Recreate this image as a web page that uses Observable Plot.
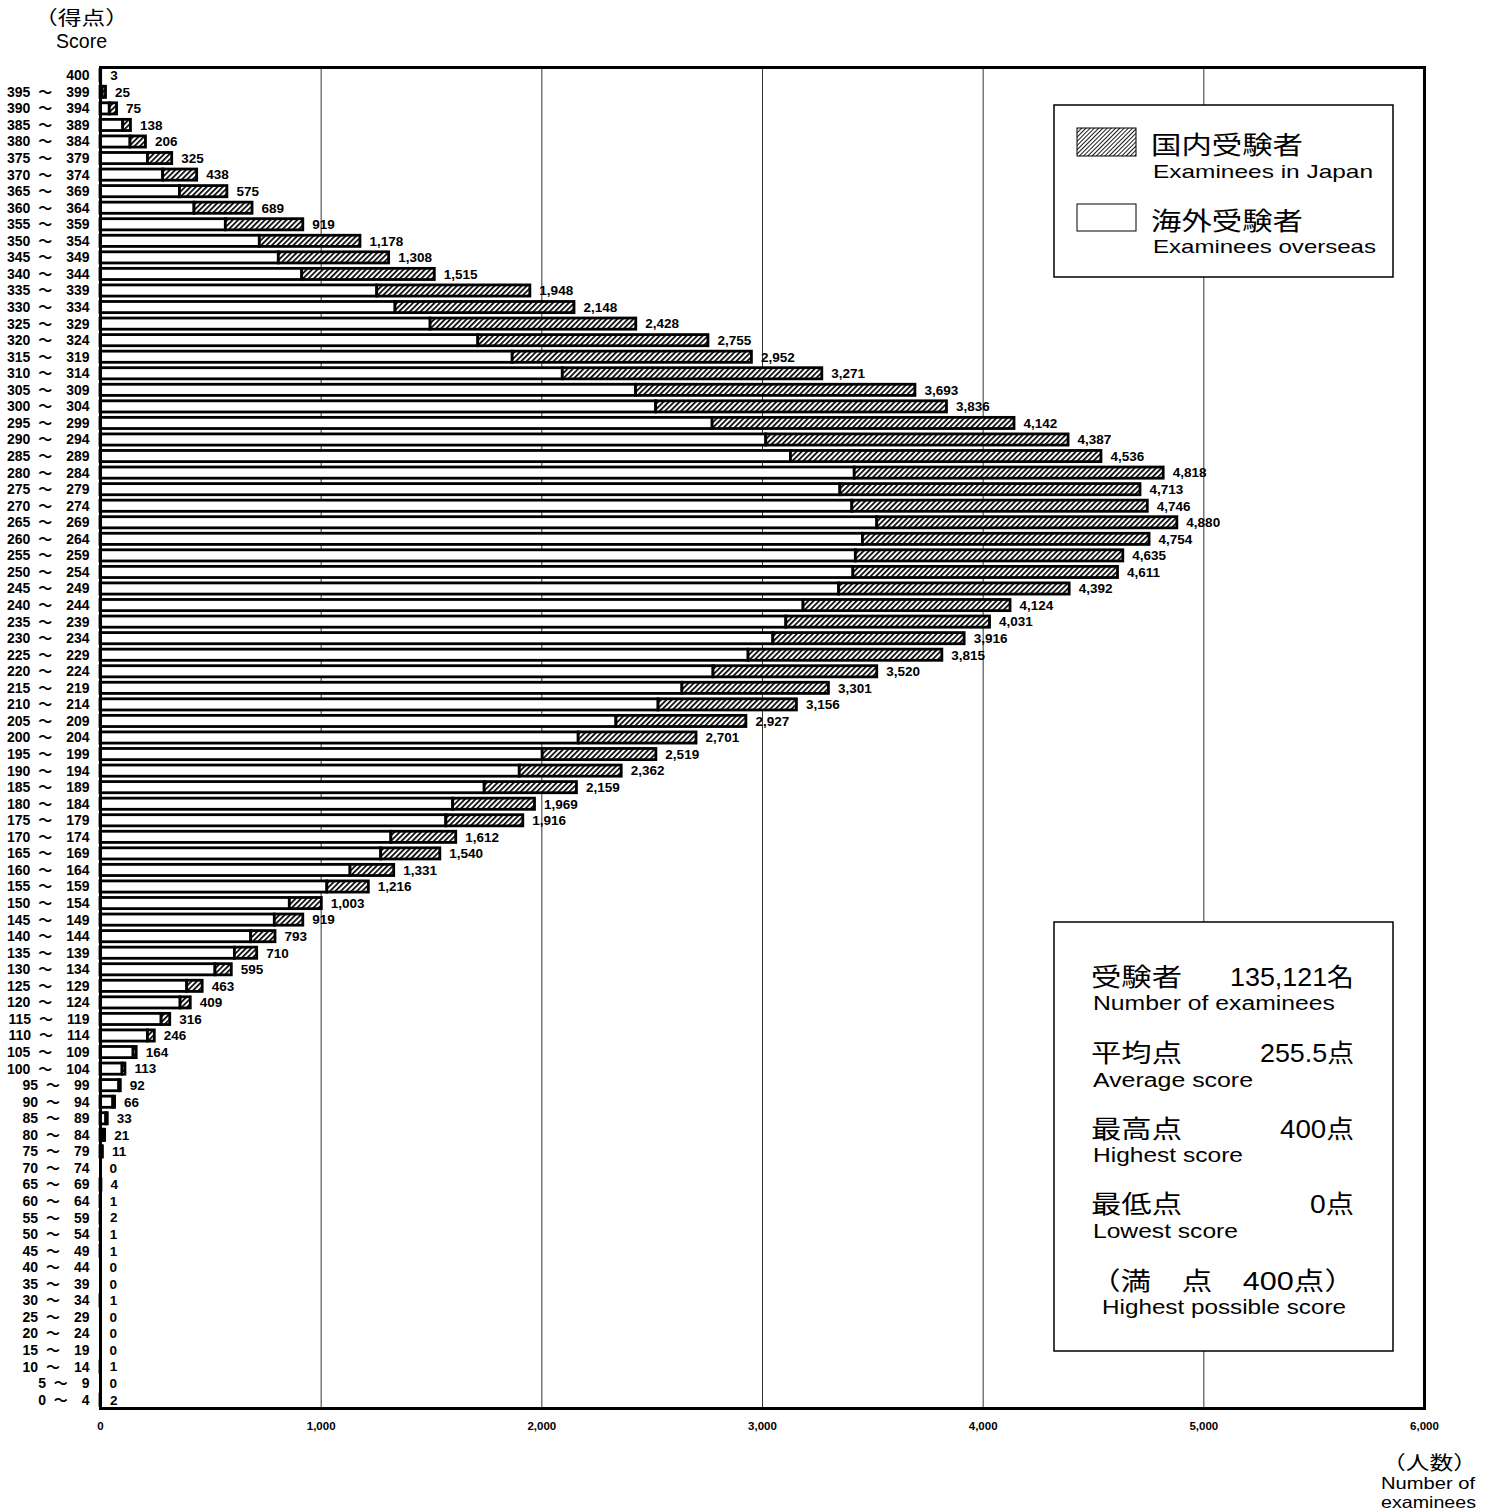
<!DOCTYPE html>
<html>
<head>
<meta charset="utf-8">
<script src="https://cdn.jsdelivr.net/npm/d3@7"></script>
<script src="https://cdn.jsdelivr.net/npm/@observablehq/plot@0.6"></script>
<style>
  html, body { margin: 0; padding: 0; background: #fff; }
  #chart svg { display: block; }
</style>
</head>
<body>
<div id="chart"></div>
<script>
// ---- Data ----
const scoreBins = [
  "400","395～399","390～394","385～389","380～384","375～379","370～374","365～369","360～364",
  "355～359","350～354","345～349","340～344","335～339","330～334","325～329","320～324",
  "315～319","310～314","305～309","300～304","295～299","290～294","285～289","280～284",
  "275～279","270～274","265～269","260～264","255～259","250～254","245～249","240～244",
  "235～239","230～234","225～229","220～224","215～219","210～214","205～209","200～204",
  "195～199","190～194","185～189","180～184","175～179","170～174","165～169","160～164",
  "155～159","150～154","145～149","140～144","135～139","130～134","125～129","120～124",
  "115～119","110～114","105～109","100～104","95～99","90～94","85～89","80～84",
  "75～79","70～74","65～69","60～64","55～59","50～54","45～49","40～44",
  "35～39","30～34","25～29","20～24","15～19","10～14","5～9","0～4"
];
// total number of examinees per score band (labels on the bars)
const totals = [
  3,25,75,138,206,325,438,575,689,
  919,1178,1308,1515,1948,2148,2428,2755,
  2952,3271,3693,3836,4142,4387,4536,4818,
  4713,4746,4880,4754,4635,4611,4392,4124,
  4031,3916,3815,3520,3301,3156,2927,2701,
  2519,2362,2159,1969,1916,1612,1540,1331,
  1216,1003,919,793,710,595,463,409,
  316,246,164,113,92,66,33,21,
  11,0,4,1,2,1,1,0,
  0,1,0,0,0,1,0,2
];
// overseas examinees (white segment), estimated from the bar split
const overseas = [
  2,10,42,103,136,215,284,360,426,
  568,722,808,914,1254,1337,1496,1712,
  1868,2095,2427,2518,2774,3017,3129,3418,
  3353,3407,3520,3455,3423,3412,3347,3186,
  3108,3049,2937,2778,2637,2529,2338,2167,
  2004,1900,1741,1598,1567,1318,1272,1133,
  1028,858,790,683,609,521,393,363,
  277,215,150,100,85,58,26,15,
  7,0,3,1,2,1,1,0,
  0,1,0,0,0,1,0,2
];
const xTicks = [0, 1000, 2000, 3000, 4000, 5000, 6000];
const gridValues = [1000, 2000, 3000, 4000, 5000];

const legendJa = ["国内受験者", "海外受験者"];
const legendEn = ["Examinees in Japan", "Examinees overseas"];
const statsJa = ["受験者", "平均点", "最高点", "最低点"];
const statsVal = ["135,121名", "255.5点", "400点", "0点"];
const statsEn = ["Number of examinees", "Average score", "Highest score", "Lowest score"];
const fullMarkJa = "（満　点　400点）";
const fullMarkEn = "Highest possible score";
const yTitle = ["（得点）", "Score"];
const xTitle = ["（人数）", "Number of", "examinees"];

// ---- Build table ----
const rows = scoreBins.map((bin, i) => ({
  bin,
  total: totals[i],
  overseas: overseas[i],
  japan: totals[i] - overseas[i]
}));

const fontStack = "'Liberation Sans','Noto Sans CJK JP',sans-serif";
const fmtBin = s => {
  const p = s.split("～");
  return p.length === 1 ? s : p[0] + "\u2007～\u2003" + p[1];
};

const chart = Plot.plot({
  width: 1493,
  height: 1512,
  marginLeft: 100,
  marginRight: 69,
  marginTop: 67,
  marginBottom: 104,
  style: { fontFamily: fontStack, fontSize: "13px", background: "white", color: "black" },
  x: { domain: [0, 6000], label: null },
  y: { domain: scoreBins, padding: 0, label: null },
  marks: [
    Plot.ruleX(gridValues, { stroke: "#333", strokeWidth: 1 }),
    Plot.barX(rows, {
      y: "bin", x1: 0, x2: "overseas",
      fill: "white", stroke: "black", strokeWidth: 2.8,
      insetTop: 2.7, insetBottom: 2.7
    }),
    Plot.barX(rows, {
      y: "bin", x1: "overseas", x2: "total",
      fill: "url(#hatchBar)", stroke: "black", strokeWidth: 2.8,
      insetTop: 2.7, insetBottom: 2.7
    }),
    Plot.text(rows, {
      y: "bin", x: "total",
      text: d => d3.format(",")(d.total),
      textAnchor: "start", dx: 9,
      fontSize: 13.5, fontWeight: "bold"
    }),
    Plot.axisY({
      tickSize: 0, tickPadding: 11,
      tickFormat: fmtBin,
      fontSize: 14, fontWeight: "bold", label: null
    }),
    Plot.axisX({
      ticks: xTicks, tickSize: 0, tickPadding: 13,
      tickFormat: d3.format(","),
      fontSize: 11.5, fontWeight: "bold", label: null
    }),
    Plot.frame({ stroke: "black", strokeWidth: 3 })
  ]
});

document.getElementById("chart").appendChild(chart);

// ---- Patterns ----
const svg = d3.select(chart);
const defs = svg.insert("defs", ":first-child");
function hatch(id, size, lw) {
  const p = defs.append("pattern")
    .attr("id", id)
    .attr("patternUnits", "userSpaceOnUse")
    .attr("width", size).attr("height", size)
    .attr("patternTransform", "rotate(45)");
  p.append("rect").attr("width", size).attr("height", size).attr("fill", "white");
  p.append("rect").attr("width", lw).attr("height", size).attr("fill", "black");
}
hatch("hatchBar", 3.8, 1.7);
hatch("hatchLegend", 3.0, 0.9);

// ---- Annotations ----
const ann = svg.append("g").attr("font-family", fontStack).attr("fill", "black");
function txt(s, x, y, size, len, anchor = "start") {
  const t = ann.append("text")
    .attr("x", x).attr("y", y)
    .attr("font-size", size)
    .attr("text-anchor", anchor)
    .text(s);
  if (len) t.attr("textLength", len).attr("lengthAdjust", "spacingAndGlyphs");
  return t;
}

// axis titles
txt(yTitle[0], 34, 25, 19, 95);
txt(yTitle[1], 56, 48, 20, 51);
txt(xTitle[0], 1382, 1470, 19, 95);
txt(xTitle[1], 1381, 1489, 16.5, 94);
txt(xTitle[2], 1381, 1508, 16.5, 95);

// legend box
ann.append("rect").attr("x", 1054).attr("y", 105).attr("width", 339).attr("height", 172)
  .attr("fill", "white").attr("stroke", "black").attr("stroke-width", 1.5);
ann.append("rect").attr("x", 1077).attr("y", 128).attr("width", 59).attr("height", 28)
  .attr("fill", "url(#hatchLegend)").attr("stroke", "black").attr("stroke-width", 1);
ann.append("rect").attr("x", 1077).attr("y", 204).attr("width", 59).attr("height", 27)
  .attr("fill", "white").attr("stroke", "black").attr("stroke-width", 1);
txt(legendJa[0], 1151, 153.5, 25, 152);
txt(legendEn[0], 1153, 178, 18.5, 220);
txt(legendJa[1], 1151, 229.5, 25, 152);
txt(legendEn[1], 1153, 253, 18.5, 223);

// statistics box
ann.append("rect").attr("x", 1054).attr("y", 922).attr("width", 339).attr("height", 429)
  .attr("fill", "white").attr("stroke", "black").attr("stroke-width", 1.5);
const jaBase = [985.5, 1061.5, 1137.5, 1212.5];
const enBase = [1010, 1087, 1162, 1238];
const enLen = [242, 160, 150, 145];
const valLen = [124, 94, 74, 44];
statsJa.forEach((s, i) => {
  txt(s, 1091, jaBase[i], 25, 91);
  txt(statsVal[i], 1354, jaBase[i], 25, valLen[i], "end");
  txt(statsEn[i], 1093, enBase[i], 20, enLen[i]);
});
txt(fullMarkJa, 1090, 1289.5, 25, 265);
txt(fullMarkEn, 1102, 1314, 20, 244);
</script>
</body>
</html>
